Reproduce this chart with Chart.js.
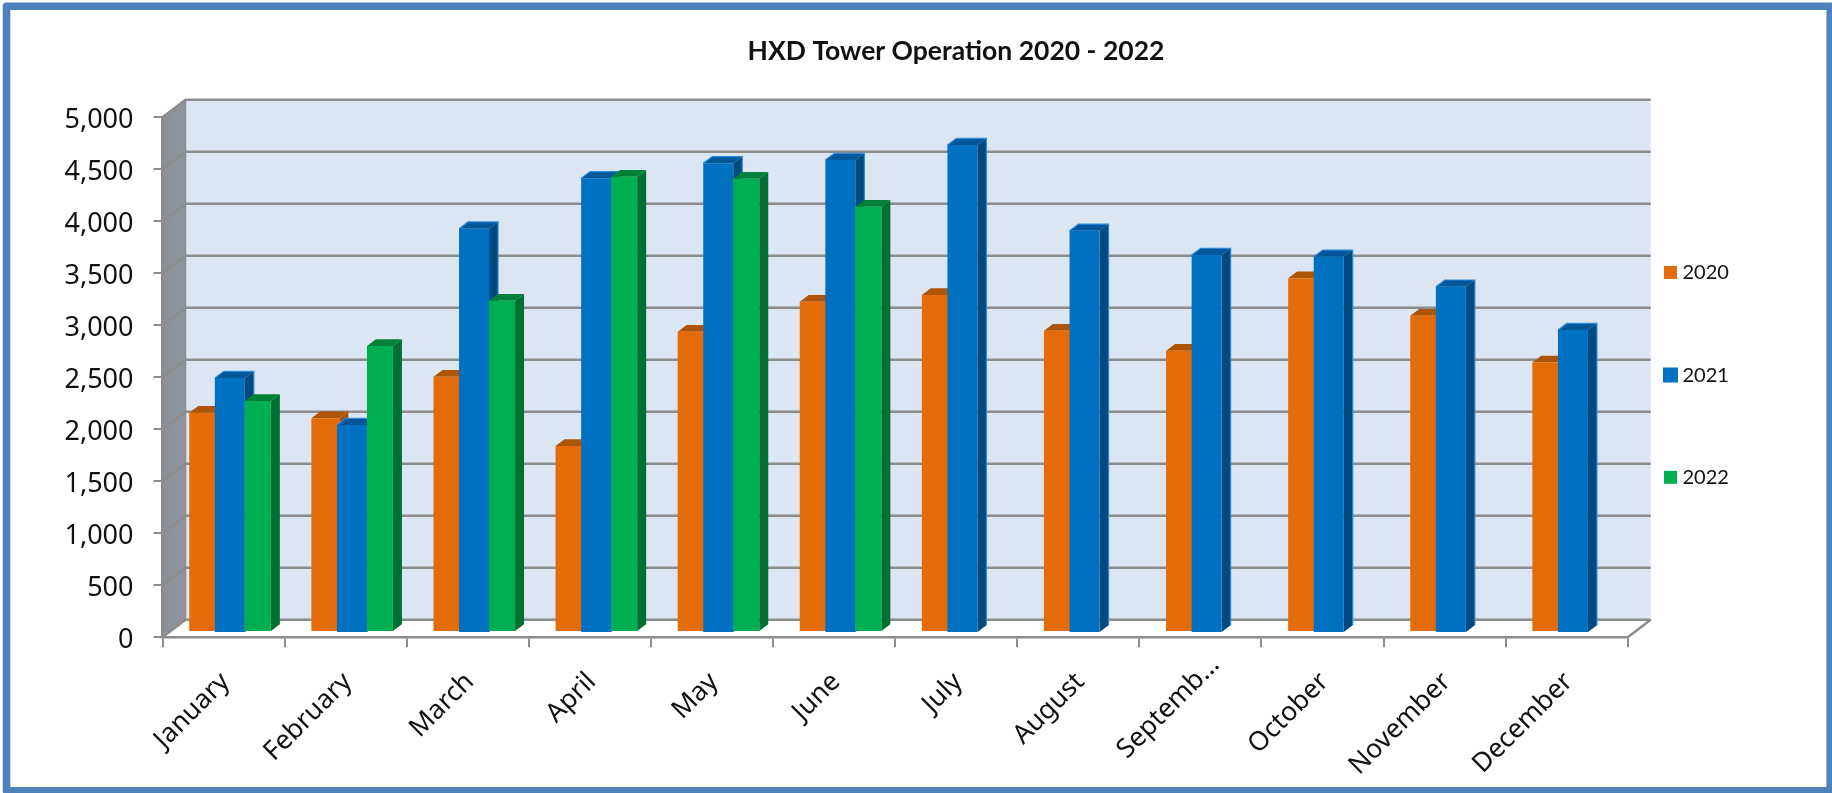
<!DOCTYPE html>
<html>
<head>
<meta charset="utf-8">
<script src="https://cdn.jsdelivr.net/npm/chart.js@4"></script>
<style>html,body{margin:0;padding:0;background:#fff}canvas{display:block}</style>
</head>
<body>
<canvas id="c" width="1832" height="793"></canvas>
<script>
const categories = ['January','February','March','April','May','June','July','August','Septemb\u2026','October','November','December'];
const series2020 = [2109,2055,2455,1788,2888,3176,3240,2897,2705,3401,3041,2593];
const series2021 = [2452,2000,3888,4372,4516,4548,4692,3868,3635,3618,3330,2913];
const series2022 = [2221,2750,3186,4378,4359,4089,null,null,null,null,null,null];
const titleText = 'HXD Tower Operation 2020 - 2022';

const GRAY = '#8c8c8c';
const WALL = {dx: 23, dy: 17.5};
const BAR_DEPTH = {dx: 9, dy: 6.7};
const faces = [
  {front:'#e36c09', side:'#a85005', top:'#ae5405', dx:7.7, dy:-5.3, edge:null},
  {front:'#0070c0', side:'#004a80', top:'#00579a', dx:6.3, dy:-4.3, edge:'#2b8cdc'},
  {front:'#00b050', side:'#007034', top:'#008038', dx:8.3, dy:-5.3, edge:null}
];
const legendPos = [272.5, 375, 477.3];

function poly(ctx, pts, fill){
  ctx.beginPath();
  pts.forEach((p,i)=> i?ctx.lineTo(p[0],p[1]):ctx.moveTo(p[0],p[1]));
  ctx.closePath();
  ctx.fillStyle = fill; ctx.fill();
}

const scene = {
  id:'scene',
  beforeDraw(chart){
    const ctx = chart.ctx, x = chart.scales.x, y = chart.scales.y;
    const L = x.left, R = x.right, B = y.getPixelForValue(0), T = y.getPixelForValue(5000);
    const d = WALL;
    // the truncated label sits further along its own slant in the reference
    const items = x.getLabelItems ? x.getLabelItems(chart.chartArea) : null;
    if (items && items[8] && !items[8].moved){
      items[8].options.translation[0] += 13;
      items[8].options.translation[1] -= 17;
      items[8].moved = true;
    }
    ctx.save();
    ctx.fillStyle = '#fff'; ctx.fillRect(0,0,chart.width,chart.height);
    // frame
    ctx.strokeStyle = '#4f81bd'; ctx.lineWidth = 7.6; ctx.lineJoin = 'round';
    ctx.strokeRect(6.5,6.3,1823.7,784.4);
    // back wall
    poly(ctx, [[L+d.dx,T-d.dy],[R+d.dx,T-d.dy],[R+d.dx,B-d.dy],[L+d.dx,B-d.dy]], '#dce6f2');
    // side wall
    const g = ctx.createLinearGradient(L,0,L+d.dx,0);
    g.addColorStop(0,'#8a9199'); g.addColorStop(1,'#8e959d');
    poly(ctx, [[L,T],[L+d.dx,T-d.dy],[L+d.dx,B-d.dy],[L,B]], g);
    // gridlines on both walls
    ctx.strokeStyle = GRAY; ctx.lineWidth = 2.4;
    y.ticks.forEach(t=>{
      const py = y.getPixelForValue(t.value);
      ctx.beginPath();
      ctx.moveTo(L,py); ctx.lineTo(L+d.dx,py-d.dy); ctx.lineTo(R+d.dx,py-d.dy);
      ctx.stroke();
    });
    ctx.beginPath(); ctx.moveTo(R,B); ctx.lineTo(R+d.dx,B-d.dy); ctx.stroke();
    ctx.lineWidth = 1.5;
    ctx.beginPath(); ctx.moveTo(L+d.dx,T-d.dy); ctx.lineTo(L+d.dx,B-d.dy); ctx.stroke();
    ctx.restore();
  },
  beforeDatasetsDraw(chart){
    const ctx = chart.ctx;
    chart.data.datasets.forEach((ds,i)=>{
      const meta = chart.getDatasetMeta(i), f = faces[i], b = BAR_DEPTH;
      ctx.save();
      ctx.translate(f.dx,f.dy);
      meta.data.forEach((el,j)=>{
        if (ds.data[j] == null) return;
        const p = el.getProps(['x','y','base','width'], true);
        const l = p.x-p.width/2, r = p.x+p.width/2;
        poly(ctx, [[r,p.y],[r+b.dx,p.y-b.dy],[r+b.dx,p.base-b.dy],[r,p.base]], f.side);
        poly(ctx, [[l,p.y],[l+b.dx,p.y-b.dy],[r+b.dx,p.y-b.dy],[r,p.y]], f.top);
        if (f.edge){
          ctx.strokeStyle = f.edge; ctx.lineWidth = 1.2;
          ctx.beginPath();
          ctx.moveTo(l,p.y); ctx.lineTo(l+b.dx,p.y-b.dy); ctx.lineTo(r+b.dx,p.y-b.dy); ctx.lineTo(r+b.dx,p.base-b.dy);
          ctx.stroke();
        }
      });
      meta.controller.draw();
      ctx.restore();
    });
    return false;
  },
  afterDraw(chart){
    const ctx = chart.ctx;
    ctx.save();
    ctx.font = '20px Lato'; ctx.textBaseline = 'middle'; ctx.textAlign = 'left';
    chart.data.datasets.forEach((ds,i)=>{
      const s = i===1 ? 15 : 13, cx = 1670.5, cy = legendPos[i];
      ctx.fillStyle = ds.backgroundColor; ctx.fillRect(cx-s/2,cy-s/2,s,s);
      ctx.fillStyle = '#111'; ctx.fillText(ds.label, 1682.5, cy+0.5);
    });
    ctx.restore();
  }
};

new Chart(document.getElementById('c'), {
  type:'bar',
  plugins:[scene],
  data:{
    labels:categories,
    datasets:[
      {label:'2020', data:series2020, backgroundColor:faces[0].front, barThickness:28, inflateAmount:0},
      {label:'2021', data:series2021, backgroundColor:faces[1].front, barThickness:30, inflateAmount:0},
      {label:'2022', data:series2022, backgroundColor:faces[2].front, barThickness:26, inflateAmount:0}
    ]
  },
  options:{
    responsive:false, animation:false,
    layout:{padding:{left:60,right:-20,top:0,bottom:0}},
    plugins:{
      legend:{display:false},
      tooltip:{enabled:false},
      title:{display:true,text:titleText,color:'#111',
        font:{family:'Lato',size:26.5,weight:'bold',lineHeight:1.2},
        padding:{top:36,bottom:49.5}}
    },
    scales:{
      x:{
        grid:{color:GRAY,lineWidth:2,tickLength:10,drawOnChartArea:false,offset:true},
        border:{color:GRAY,width:2.5},
        afterFit(s){s.height=155.7;},
        ticks:{font:{family:'Noto Sans',size:26.5},color:'#111',maxRotation:45,minRotation:45,autoSkip:false,padding:19,labelOffset:2}
      },
      y:{
        min:0,max:5000,
        grid:{color:GRAY,lineWidth:2,tickLength:9,drawOnChartArea:false},
        border:{color:GRAY,width:2.5},
        afterFit(s){s.width=102.5;},
        ticks:{stepSize:500,font:{family:'Noto Sans',size:27},color:'#111',padding:20,labelOffset:3}
      },
      spacer:{
        type:'linear',position:'right',display:true,
        grid:{display:false},border:{display:false},ticks:{display:false},
        afterFit(s){s.width=224.3;}
      }
    }
  }
});
</script>
</body>
</html>
